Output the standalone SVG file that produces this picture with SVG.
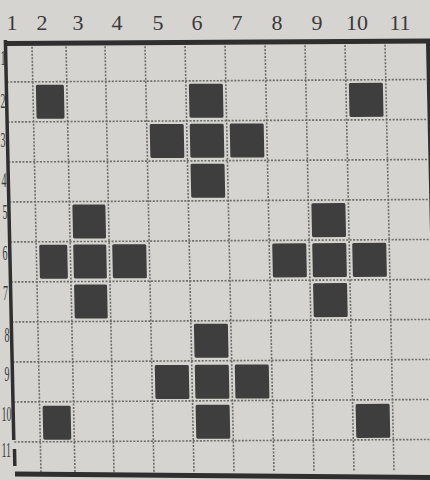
<svg xmlns="http://www.w3.org/2000/svg" width="430" height="480" viewBox="0 0 430 480">
<style>
.bg{fill:#d5d4d0}
.dash{stroke:#6c6c6a;stroke-width:1.6;stroke-dasharray:2 1.5;fill:none}
.thick{stroke:#2f2f2f;fill:none;stroke-linecap:butt}
.sq{fill:#3e3e3e}
.col{font-family:"Liberation Serif","Times New Roman",serif;font-size:22px;fill:#3a3a3a;text-anchor:middle}
.row{font-family:"Liberation Serif","Times New Roman",serif;font-size:20px;fill:#3a3a3a;text-anchor:start}
</style>
<rect class="bg" x="0" y="0" width="430" height="480"/>
<g id="column-labels">
<text class="col" x="12" y="30">1</text>
<text class="col" x="42" y="30">2</text>
<text class="col" x="78" y="30">3</text>
<text class="col" x="117" y="30">4</text>
<text class="col" x="158" y="30">5</text>
<text class="col" x="197" y="30">6</text>
<text class="col" x="237" y="30">7</text>
<text class="col" x="277" y="30">8</text>
<text class="col" x="317" y="30">9</text>
<text class="col" x="357" y="30">10</text>
<text class="col" x="400" y="30">11</text>
</g>
<g id="row-labels">
<text class="row" transform="translate(0.5,65) scale(0.5,1)">1</text>
<text class="row" transform="translate(0.5,108) scale(0.5,1)">2</text>
<text class="row" transform="translate(0.5,147) scale(0.5,1)">3</text>
<text class="row" transform="translate(1.5,187) scale(0.5,1)">4</text>
<text class="row" transform="translate(2.5,219) scale(0.5,1)">5</text>
<text class="row" transform="translate(2.5,260) scale(0.5,1)">6</text>
<text class="row" transform="translate(3,300) scale(0.5,1)">7</text>
<text class="row" transform="translate(4.5,342) scale(0.5,1)">8</text>
<text class="row" transform="translate(4.5,381) scale(0.5,1)">9</text>
<text class="row" transform="translate(1.5,421) scale(0.5,1)">10</text>
<text class="row" transform="translate(1.5,457) scale(0.5,1)">11</text>
</g>
<g id="board" transform="matrix(1,-0.006,0.021,1,-0.95,0)">
<g id="grid-lines">
<line class="dash" x1="32" y1="47" x2="32" y2="474"/>
<line class="dash" x1="66" y1="47" x2="66" y2="474"/>
<line class="dash" x1="105" y1="47" x2="105" y2="474"/>
<line class="dash" x1="145" y1="47" x2="145" y2="474"/>
<line class="dash" x1="185" y1="47" x2="185" y2="474"/>
<line class="dash" x1="225" y1="47" x2="225" y2="474"/>
<line class="dash" x1="265" y1="47" x2="265" y2="474"/>
<line class="dash" x1="305" y1="47" x2="305" y2="474"/>
<line class="dash" x1="345" y1="47" x2="345" y2="474"/>
<line class="dash" x1="385" y1="47" x2="385" y2="474"/>
<line class="dash" x1="6" y1="82" x2="426" y2="82"/>
<line class="dash" x1="6" y1="122" x2="426" y2="122"/>
<line class="dash" x1="6" y1="162" x2="426" y2="162"/>
<line class="dash" x1="6" y1="202" x2="426" y2="202"/>
<line class="dash" x1="6" y1="242" x2="426" y2="242"/>
<line class="dash" x1="6" y1="282" x2="426" y2="282"/>
<line class="dash" x1="6" y1="322" x2="426" y2="322"/>
<line class="dash" x1="6" y1="362" x2="426" y2="362"/>
<line class="dash" x1="6" y1="402" x2="426" y2="402"/>
<line class="dash" x1="6" y1="442" x2="426" y2="442"/>
</g>
<g id="frame">
<line class="thick" x1="7" y1="43.5" x2="445" y2="43.5" stroke-width="5"/>
<line class="thick" x1="5.5" y1="40" x2="5.5" y2="440" stroke-width="3.5"/>
<line class="thick" x1="6" y1="449" x2="6" y2="466" stroke-width="3.5"/>
<line class="thick" x1="428" y1="42" x2="428" y2="480" stroke-width="4"/>
</g>
<g id="cells">
<rect id="r2c2" class="sq" x="35" y="85" width="28" height="34" rx="1.5"/>
<rect id="r2c6" class="sq" x="188" y="85" width="34" height="34" rx="1.5"/>
<rect id="r2c10" class="sq" x="348" y="85" width="34" height="34" rx="1.5"/>
<rect id="r3c5" class="sq" x="148" y="125" width="34" height="34" rx="1.5"/>
<rect id="r3c6" class="sq" x="188" y="125" width="34" height="34" rx="1.5"/>
<rect id="r3c7" class="sq" x="228" y="125" width="34" height="34" rx="1.5"/>
<rect id="r4c6" class="sq" x="188" y="165" width="34" height="34" rx="1.5"/>
<rect id="r5c3" class="sq" x="69" y="205" width="33" height="34" rx="1.5"/>
<rect id="r5c9" class="sq" x="308" y="205" width="34" height="34" rx="1.5"/>
<rect id="r6c2" class="sq" x="35" y="245" width="28" height="34" rx="1.5"/>
<rect id="r6c3" class="sq" x="69" y="245" width="33" height="34" rx="1.5"/>
<rect id="r6c4" class="sq" x="108" y="245" width="34" height="34" rx="1.5"/>
<rect id="r6c8" class="sq" x="268" y="245" width="34" height="34" rx="1.5"/>
<rect id="r6c9" class="sq" x="308" y="245" width="34" height="34" rx="1.5"/>
<rect id="r6c10" class="sq" x="348" y="245" width="34" height="34" rx="1.5"/>
<rect id="r7c3" class="sq" x="69" y="285" width="33" height="34" rx="1.5"/>
<rect id="r7c9" class="sq" x="308" y="285" width="34" height="34" rx="1.5"/>
<rect id="r8c6" class="sq" x="188" y="325" width="34" height="34" rx="1.5"/>
<rect id="r9c5" class="sq" x="148" y="366" width="34" height="34" rx="1.5"/>
<rect id="r9c6" class="sq" x="188" y="366" width="34" height="34" rx="1.5"/>
<rect id="r9c7" class="sq" x="228" y="366" width="34" height="34" rx="1.5"/>
<rect id="r10c2" class="sq" x="35" y="406" width="28" height="34" rx="1.5"/>
<rect id="r10c6" class="sq" x="188" y="406" width="34" height="34" rx="1.5"/>
<rect id="r10c10" class="sq" x="348" y="406" width="34" height="34" rx="1.5"/>
</g>
</g>
<line id="bottom-edge" class="thick" x1="15" y1="474" x2="430" y2="477.5" stroke-width="5"/>
</svg>
